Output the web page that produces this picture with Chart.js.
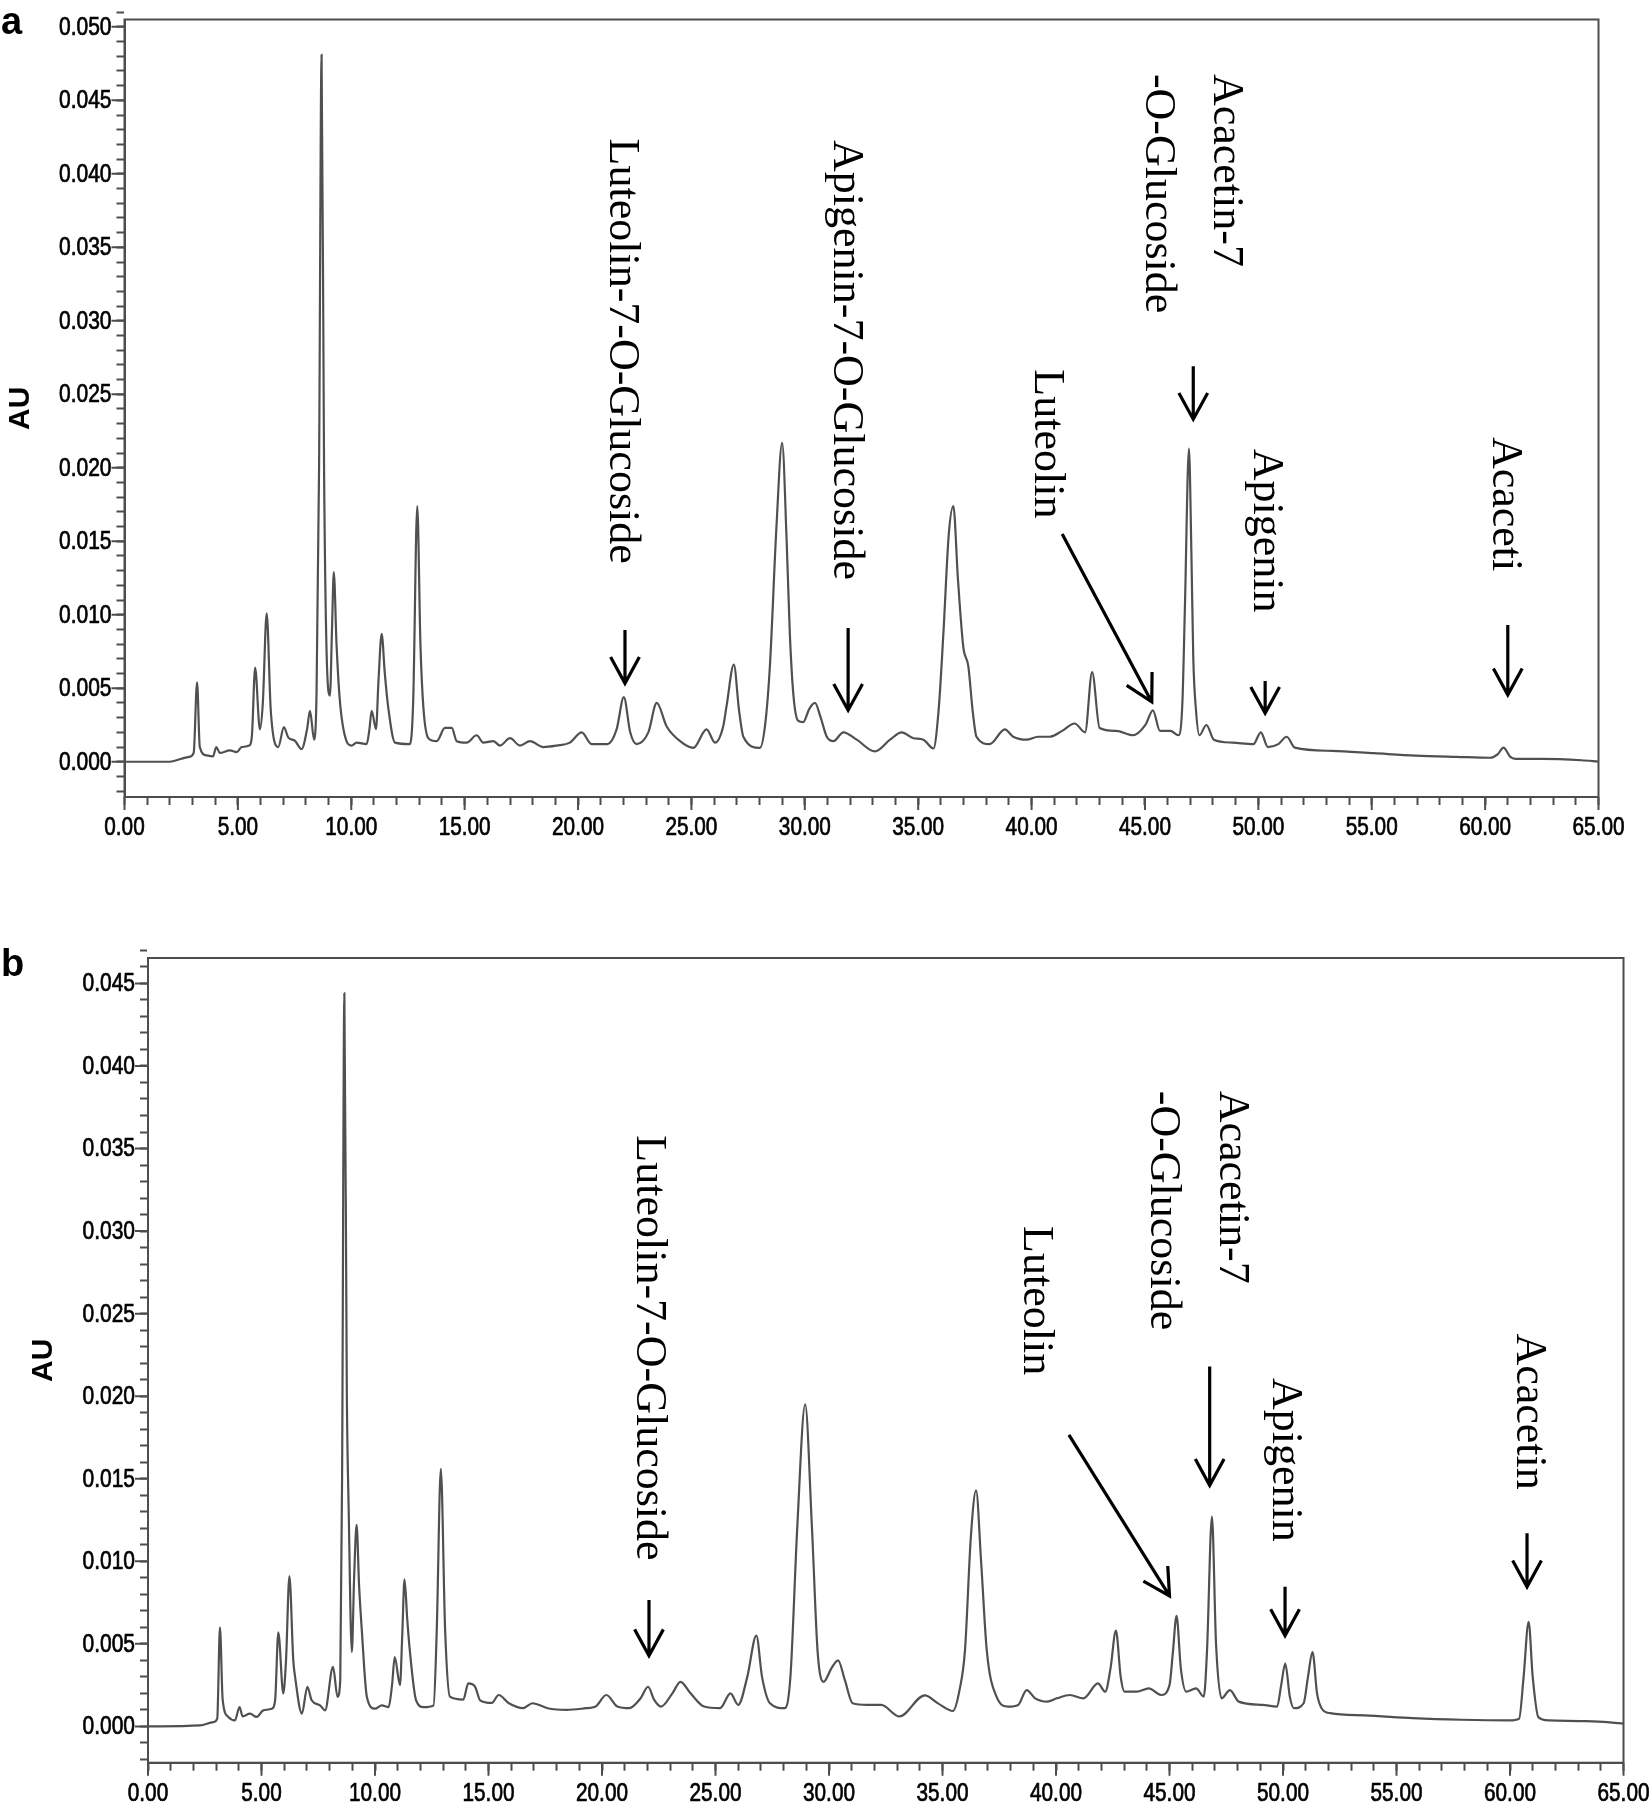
<!DOCTYPE html>
<html>
<head>
<meta charset="utf-8">
<script src="https://cdn.jsdelivr.net/npm/chart.js@4.4.1/dist/chart.umd.min.js"></script>
<style>
  body { margin: 0; background: #fff; }
  .panel { position: absolute; left: 0; width: 1652px; }
  #wrapA { top: 0; height: 900px; }
  #wrapB { top: 900px; height: 903px; }
</style>
</head>
<body>
<div class="panel" id="wrapA"><canvas id="chartA"></canvas></div>
<div class="panel" id="wrapB"><canvas id="chartB"></canvas></div>
<script>
// retention time (min) and absorbance (AU), panel a
const timeA = [0, 2.0, 2.5, 2.85, 3.05, 3.2, 3.32, 3.62, 3.9, 4.05, 4.2, 4.65, 4.95, 5.17, 5.5, 5.62, 5.76, 5.97, 6.1, 6.27, 6.45, 6.78,
  7.03, 7.22, 7.51, 7.81, 8.05, 8.18, 8.36, 8.47, 8.58, 8.69, 8.8, 8.92, 9.06, 9.15, 9.23, 9.35, 9.5, 9.79, 10.01, 10.24, 10.68,
  10.8, 10.9, 11.09, 11.2, 11.34, 11.48, 11.63, 11.93, 12.59, 12.73, 12.91, 13.05, 13.18, 13.4, 13.77, 14.13, 14.43, 14.65, 15.09,
  15.53, 15.82, 16.27, 16.56, 17.0, 17.44, 17.88, 18.47, 19.05, 19.64, 20.16, 20.6, 21.3, 21.7, 22.02, 22.3, 22.58, 23.1, 23.47,
  23.91, 24.5, 25.08, 25.67, 26.04, 26.4, 26.55, 26.87, 27.1, 27.29, 28.02, 28.25, 28.46, 28.75, 29.0, 29.2, 29.34, 29.5, 29.7,
  29.93, 30.2, 30.45, 30.7, 30.97, 31.26, 31.7, 32.29, 33.09, 33.76, 34.27, 34.79, 35.23, 35.67, 35.9, 36.11, 36.35, 36.55, 36.75,
  36.99, 37.21, 37.4, 37.57, 38.16, 38.82, 39.19, 39.78, 40.29, 40.8, 41.35, 41.9, 42.36, 42.67, 43.0, 43.73, 44.47, 45.02, 45.35,
  45.66, 46.12, 46.48, 46.65, 46.76, 46.94, 47.05, 47.13, 47.25, 47.4, 47.71, 48.04, 48.87, 49.78, 50.11, 50.42, 50.88, 51.25,
  51.61, 53.26, 55.1, 56.93, 58.76, 60.23, 60.55, 60.81, 61.1, 61.33, 62.43, 64.26, 65.0];
const auA = [0, 0, 0.0002, 0.00033, 0.0006, 0.0054, 0.001, 0.00043, 0.00036, 0.001, 0.0006, 0.00077, 0.00066, 0.001, 0.0011, 0.0018, 0.0064, 0.0022, 0.004, 0.0101, 0.0035, 0.001,
  0.00235, 0.00166, 0.00143, 0.00086, 0.0022, 0.00347, 0.0015, 0.0048, 0.02, 0.0481, 0.02, 0.007, 0.0045, 0.009, 0.0129, 0.008, 0.0041, 0.0014, 0.0011, 0.0013, 0.0012,
  0.0022, 0.00347, 0.00222, 0.0055, 0.0087, 0.006, 0.0037, 0.0013, 0.0012, 0.0041, 0.0174, 0.008, 0.0037, 0.0016, 0.0014, 0.0023, 0.0023, 0.0014, 0.0013,
  0.0018, 0.0013, 0.0014, 0.0011, 0.0016, 0.0011, 0.0014, 0.001, 0.0011, 0.0013, 0.002, 0.0012, 0.0012, 0.0022, 0.0044, 0.002, 0.0012, 0.002, 0.004,
  0.0024, 0.0014, 0.00094, 0.0022, 0.0013, 0.0024, 0.0038, 0.0066, 0.0035, 0.0017, 0.00094, 0.0025, 0.0065, 0.016, 0.0217, 0.015, 0.0087, 0.0045, 0.0028,
  0.0027, 0.0036, 0.004, 0.003, 0.0017, 0.0014, 0.002, 0.0015, 0.0007, 0.0015, 0.002, 0.0016, 0.0015, 0.0009, 0.0035, 0.0087, 0.0155, 0.0174, 0.0125,
  0.0078, 0.0065, 0.0035, 0.0017, 0.0012, 0.0022, 0.0017, 0.0015, 0.0017, 0.0017, 0.0021, 0.0026, 0.002, 0.0061, 0.0023, 0.0021, 0.0018, 0.0025, 0.0035,
  0.0021, 0.0021, 0.0018, 0.004, 0.0104, 0.0213, 0.014, 0.0071, 0.0035, 0.0018, 0.0025, 0.0015, 0.0013, 0.0012, 0.002, 0.001, 0.0012, 0.0017,
  0.00096, 0.00074, 0.00058, 0.00042, 0.00033, 0.00027, 0.0005, 0.00096, 0.00035, 0.0002, 0.0002, 0.0001, 0.0];

// panel b
const timeB = [0, 2.29, 2.88, 3.05, 3.17, 3.29, 3.54, 3.83, 4.03, 4.17, 4.49, 4.79, 5.08, 5.45, 5.6, 5.74, 5.96, 6.08, 6.23, 6.4, 6.48, 6.78,
  7.02, 7.21, 7.58, 7.8, 8.15, 8.35, 8.47, 8.55, 8.65, 8.76, 8.84, 8.98, 9.08, 9.19, 9.3, 9.42, 9.64, 10.0, 10.3, 10.6, 10.75, 10.87,
  11.1, 11.2, 11.3, 11.42, 11.52, 11.81, 12.14, 12.58, 12.72, 12.9, 13.09, 13.3, 13.89, 14.11, 14.41, 14.63, 15.14, 15.45, 15.9,
  16.52, 16.94, 17.6, 18.44, 19.3, 19.72, 20.19, 20.68, 21.2, 21.7, 22.03, 22.3, 22.6, 23.1, 23.46, 23.9, 24.5, 25.2, 25.66, 26.0,
  26.4, 26.8, 27.05, 27.4, 28.05, 28.3, 28.6, 28.95, 29.25, 29.5, 29.76, 30.1, 30.4, 30.7, 31.04, 31.7, 32.3, 33.1, 34.22, 34.82,
  35.46, 35.75, 35.99, 36.25, 36.48, 36.7, 36.95, 37.38, 37.9, 38.33, 38.71, 39.08, 39.61, 40.04, 40.61, 41.21, 41.85, 42.17, 42.4,
  42.64, 42.85, 43.02, 43.56, 44.09, 44.63, 45.0, 45.15, 45.31, 45.5, 45.74, 46.17, 46.51, 46.65, 46.87, 47.05, 47.3, 47.66, 48.05,
  49.1, 49.74, 49.92, 50.1, 50.3, 50.48, 50.91, 51.1, 51.3, 51.5, 51.7, 52.08, 53.58, 55.71, 57.85, 59.98, 60.4, 60.6, 60.82, 61.0,
  61.25, 61.72, 63.2, 64.3, 65.0];
const auB = [0, 0.00006, 0.00026, 0.00047, 0.006, 0.0016, 0.00057, 0.00036, 0.00117, 0.00061, 0.00077, 0.00057, 0.00097, 0.00107, 0.00158, 0.0057, 0.002, 0.004, 0.0091, 0.004, 0.003, 0.00077,
  0.0024, 0.00158, 0.00127, 0.00097, 0.0036, 0.00178, 0.0028, 0.015, 0.0444, 0.02, 0.0132, 0.0045, 0.009, 0.0122, 0.0085, 0.0058, 0.0018, 0.00107, 0.00127, 0.00117, 0.0025, 0.0042,
  0.0025, 0.0055, 0.0089, 0.0065, 0.0048, 0.00158, 0.00117, 0.00127, 0.0058, 0.0156, 0.0058, 0.0018, 0.00162, 0.0026, 0.0024, 0.00158, 0.00142, 0.0019, 0.0014,
  0.0011, 0.0014, 0.0011, 0.001, 0.0011, 0.0012, 0.0019, 0.0012, 0.0011, 0.0017, 0.0024, 0.0016, 0.0012, 0.002, 0.0027, 0.002, 0.0012, 0.0011, 0.002, 0.0013,
  0.003, 0.0055, 0.003, 0.0014, 0.0011, 0.003, 0.012, 0.0195, 0.012, 0.0045, 0.0027, 0.0035, 0.004, 0.0028, 0.0014, 0.0013, 0.0013, 0.0006, 0.00188, 0.00138,
  0.00093, 0.0022, 0.0046, 0.0115, 0.0143, 0.01, 0.0046, 0.0018, 0.0012, 0.0013, 0.0022, 0.0017, 0.0015, 0.0017, 0.0019, 0.0017, 0.0026, 0.0021, 0.0035,
  0.0058, 0.003, 0.0021, 0.0021, 0.0023, 0.0019, 0.0025, 0.0045, 0.0067, 0.0035, 0.0021, 0.0023, 0.0018, 0.0045, 0.0127, 0.005, 0.0017, 0.0022, 0.0015,
  0.0013, 0.0012, 0.0025, 0.0038, 0.0018, 0.0011, 0.0014, 0.003, 0.0045, 0.002, 0.0011, 0.0008, 0.00067, 0.0005, 0.0004, 0.00036, 0.00046, 0.003, 0.00633, 0.003,
  0.00056, 0.00036, 0.00032, 0.00026, 0.00017];

// peak labels: text, centre time, top AU
const labelsA = [
  ['Luteolin-7-O-Glucoside', 21.9, 0.0424],
  ['Apigenin-7-O-Glucoside', 31.8, 0.0423],
  ['Acacetin-7', 48.55, 0.0468],
  ['-O-Glucoside', 45.57, 0.0468],
  ['Luteolin', 40.67, 0.0267],
  ['Apigenin', 50.33, 0.0213],
  ['Acaceti', 60.87, 0.0221]
];
// arrows: tail time, tail AU, tip time, tip AU
const arrowsA = [
  [22.07, 0.00896, 22.07, 0.00533],
  [31.91, 0.0091, 31.91, 0.0035],
  [47.13, 0.0269, 47.13, 0.0233],
  [41.35, 0.0155, 45.3, 0.00407],
  [50.3, 0.0055, 50.3, 0.0033],
  [61.0, 0.0093, 61.0, 0.00455]
];
const labelsB = [
  ['Luteolin-7-O-Glucoside', 22.03, 0.0358],
  ['Acacetin-7', 47.75, 0.0385],
  ['-O-Glucoside', 44.71, 0.0385],
  ['Luteolin', 39.1, 0.0303],
  ['Apigenin', 50.09, 0.0211],
  ['Acacetin', 60.8, 0.0238]
];
const arrowsB = [
  [22.07, 0.00765, 22.07, 0.00428],
  [46.77, 0.0218, 46.77, 0.0146],
  [40.57, 0.01766, 45.0, 0.0079],
  [50.09, 0.00845, 50.09, 0.0055],
  [60.75, 0.0117, 60.75, 0.00845]
];

// major tick labels
const xLabelTimes = [0, 5, 10, 15, 20, 25, 30, 35, 40, 45, 50, 55, 60, 65];
const yLabelValues = [0, 0.005, 0.01, 0.015, 0.02, 0.025, 0.03, 0.035, 0.04, 0.045, 0.05];

const axisColor = '#4d4d4d';
const labelFont = '25px "Liberation Sans", Arial, sans-serif';

function range(from, to, step) {
  const out = [];
  for (let i = Math.round(from / step); i <= Math.round(to / step); i++) out.push({ value: +(i * step).toFixed(4) });
  return out;
}

function drawArrow(ctx, x1, y1, x2, y2) {
  const ang = Math.atan2(y2 - y1, x2 - x1);
  const len = 30, spread = 0.5;
  ctx.beginPath();
  ctx.moveTo(x1, y1);
  ctx.lineTo(x2, y2);
  ctx.moveTo(x2 - len * Math.cos(ang - spread), y2 - len * Math.sin(ang - spread));
  ctx.lineTo(x2, y2);
  ctx.lineTo(x2 - len * Math.cos(ang + spread), y2 - len * Math.sin(ang + spread));
  ctx.stroke();
}

// condensed, slightly heavy text like the instrument software's font
function narrowText(ctx, text, x, y, squeeze) {
  ctx.save();
  ctx.translate(x, y);
  ctx.scale(squeeze, 1);
  ctx.strokeText(text, 0, 0);
  ctx.fillText(text, 0, 0);
  ctx.restore();
}

// frame, major ticks and their labels, panel letter, rotated peak labels
const decorPlugin = {
  id: 'decor',
  afterDraw(chart, args, opts) {
    const { ctx, chartArea: a, scales: { x, y } } = chart;
    ctx.save();
    ctx.strokeStyle = axisColor;
    ctx.lineWidth = 2;
    ctx.strokeRect(a.left, a.top, a.right - a.left, a.bottom - a.top);

    ctx.beginPath();
    xLabelTimes.forEach(t => {
      const px = x.getPixelForValue(t);
      ctx.moveTo(px, a.bottom);
      ctx.lineTo(px, a.bottom + 13);
    });
    yLabelValues.filter(v => v <= y.max).forEach(v => {
      const py = y.getPixelForValue(v);
      ctx.moveTo(a.left, py);
      ctx.lineTo(a.left - 13, py);
    });
    ctx.stroke();

    ctx.fillStyle = '#000';
    ctx.strokeStyle = '#000';
    ctx.lineWidth = 0.7;
    ctx.font = labelFont;
    ctx.textBaseline = 'middle';
    ctx.textAlign = 'right';
    yLabelValues.filter(v => v <= y.max).forEach(v => {
      narrowText(ctx, v.toFixed(3), a.left - 13, y.getPixelForValue(v) + 1, 0.84);
    });
    ctx.textAlign = 'center';
    xLabelTimes.forEach(t => {
      narrowText(ctx, t.toFixed(2), x.getPixelForValue(t), a.bottom + 31, 0.83);
    });

    ctx.font = 'bold 38px "Liberation Sans", Arial, sans-serif';
    ctx.textBaseline = 'alphabetic';
    ctx.textAlign = 'left';
    ctx.fillText(opts.letter, 1, opts.letterY);

    ctx.font = '44px "Liberation Serif", "Times New Roman", serif';
    ctx.textBaseline = 'middle';
    opts.labels.forEach(([text, t, v]) => {
      ctx.save();
      ctx.translate(x.getPixelForValue(t), y.getPixelForValue(v));
      ctx.rotate(Math.PI / 2);
      ctx.fillText(text, 0, 0);
      ctx.restore();
    });

    ctx.lineWidth = 3.2;
    opts.arrows.forEach(([t1, v1, t2, v2]) => {
      drawArrow(ctx, x.getPixelForValue(t1), y.getPixelForValue(v1), x.getPixelForValue(t2), y.getPixelForValue(v2));
    });
    ctx.restore();
  }
};

function makeChart(id, times, values, cfg) {
  return new Chart(document.getElementById(id), {
    type: 'line',
    data: {
      datasets: [{
        data: times.map((t, i) => ({ x: t, y: values[i] })),
        borderColor: '#505050',
        borderWidth: 2.2,
        pointRadius: 0,
        cubicInterpolationMode: 'monotone',
        fill: false
      }]
    },
    options: {
      responsive: true,
      maintainAspectRatio: false,
      animation: false,
      layout: { padding: { left: 0, top: cfg.top, right: cfg.right, bottom: 0 } },
      plugins: {
        legend: { display: false },
        tooltip: { enabled: false },
        decor: { letter: cfg.letter, letterY: cfg.letterY, labels: cfg.labels, arrows: cfg.arrows }
      },
      scales: {
        x: {
          type: 'linear',
          min: 0,
          max: 65,
          afterBuildTicks: scale => { scale.ticks = range(0, 65, 1); },
          afterFit: scale => { scale.height = cfg.xHeight; },
          ticks: { display: false, autoSkip: false },
          grid: { drawOnChartArea: false, drawTicks: true, tickLength: 8, tickColor: axisColor, tickWidth: 2 },
          border: { display: true, color: axisColor, width: 2 }
        },
        y: {
          type: 'linear',
          min: cfg.yMin,
          max: cfg.yMax,
          afterBuildTicks: scale => { scale.ticks = range(-0.002, cfg.yMax, 0.001); },
          afterFit: scale => { scale.width = cfg.yWidth; },
          title: {
            display: true,
            text: 'AU',
            color: '#000',
            font: { family: "'Liberation Sans', Arial, sans-serif", size: 30, weight: 'bold' },
            padding: { top: cfg.titlePad, bottom: 0 }
          },
          ticks: { display: false, autoSkip: false },
          grid: { drawOnChartArea: false, drawTicks: true, tickLength: 8, tickColor: axisColor, tickWidth: 2 },
          border: { display: true, color: axisColor, width: 2 }
        }
      }
    },
    plugins: [decorPlugin]
  });
}

makeChart('chartA', timeA, auA, {
  top: 19.5, right: 53.5, xHeight: 103, yWidth: 124.5, yMin: -0.0024, yMax: 0.0505,
  titlePad: 3, letter: 'a', letterY: 34, labels: labelsA, arrows: arrowsA
});
makeChart('chartB', timeB, auB, {
  top: 58, right: 28.5, xHeight: 40.3, yWidth: 148, yMin: -0.0022, yMax: 0.04654,
  titlePad: 26, letter: 'b', letterY: 76, labels: labelsB, arrows: arrowsB
});
</script>
</body>
</html>
